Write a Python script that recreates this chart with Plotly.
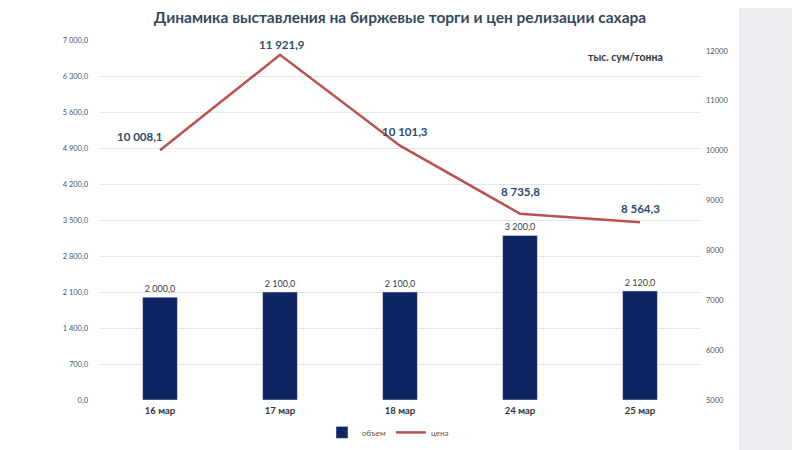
import plotly.graph_objects as go

categories = ["16 мар", "17 мар", "18 мар", "24 мар", "25 мар"]
volume = [2000.0, 2100.0, 2100.0, 3200.0, 2120.0]
price = [10008.1, 11921.9, 10101.3, 8735.8, 8564.3]
left_ticks = [0, 700, 1400, 2100, 2800, 3500, 4200, 4900, 5600, 6300, 7000]
left_tick_labels = ["0,0", "700,0", "1 400,0", "2 100,0", "2 800,0", "3 500,0",
                    "4 200,0", "4 900,0", "5 600,0", "6 300,0", "7 000,0"]
right_ticks = [5000, 6000, 7000, 8000, 9000, 10000, 11000, 12000]
right_tick_labels = ["5000", "6000", "7000", "8000", "9000", "10000", "11000", "12000"]

# label placement offsets (pixels) for price labels
label_dx = [-20, 2, 5, 0, 0]
label_dy = [14, 10, 14, 22, 14]

NAVY = "#0E2463"
RED = "#B9524F"
TXT = "#2F4A6A"


def fmt(v):
    s = f"{v:,.1f}"
    return s.replace(",", " ").replace(".", ",")


fig = go.Figure()
fig.add_trace(go.Bar(
    x=categories, y=volume, name="объем", marker_color=NAVY, width=0.29,
    texttemplate="%{y:,.1f}", textposition="outside",
    textfont=dict(size=9, color="#3A3F4A", family="Lato"),
    cliponaxis=False,
))
fig.add_trace(go.Scatter(
    x=categories, y=price, name="цена", yaxis="y2", mode="lines",
    line=dict(color=RED, width=2.5),
    cliponaxis=False,
))

annotations = [
    dict(text="<b>тыс. сум/тонна</b>", xref="paper", yref="paper", x=0.875, y=0.953,
         xanchor="center", yanchor="middle", showarrow=False,
         font=dict(size=10.5, color="#2E3440", family="Lato")),
]
for c, p, dx, dy in zip(categories, price, label_dx, label_dy):
    annotations.append(dict(
        x=c, y=p, xref="x", yref="y2", text=f"<b>{fmt(p)}</b>", showarrow=False,
        xanchor="center", yanchor="middle", xshift=dx, yshift=dy,
        font=dict(size=11.5, color=TXT, family="Lato"),
    ))

fig.update_layout(
    width=800, height=450,
    separators=", ",
    paper_bgcolor="#FFFFFF", plot_bgcolor="rgba(0,0,0,0)",
    margin=dict(l=92, r=108, t=32, b=58, autoexpand=False),
    font=dict(family="Lato", color="#44546A"),
    title=dict(text="<b>Динамика выставления на биржевые торги и цен релизации сахара</b>",
               x=0.49, xanchor="center", y=0.978, yanchor="middle",
               font=dict(size=15.5, color="#34495E", family="Lato")),
    xaxis=dict(showgrid=False, showline=False, zeroline=False, automargin=False,
               tickfont=dict(size=9.5, color="#2E3440", family="Lato", weight="bold"),
               ticks="", ticklabelstandoff=3),
    yaxis=dict(range=[0, 7000], tickvals=left_ticks, ticktext=left_tick_labels,
               showgrid=True, gridcolor="#E3E6EA", gridwidth=1, zeroline=False,
               automargin=False,
               tickfont=dict(size=7.5, color="#4A5568", family="Lato"),
               ticklabelstandoff=11),
    yaxis2=dict(range=[5000, 12220], tickvals=right_ticks, ticktext=right_tick_labels,
                overlaying="y", side="right", showgrid=False, zeroline=False,
                automargin=False,
                tickfont=dict(size=7.5, color="#4A5568", family="Lato"),
                ticklabelstandoff=5),
    showlegend=True,
    legend=dict(orientation="h", x=0.48, xanchor="center", y=-0.09, yanchor="middle",
                font=dict(size=8, color="#555"), bgcolor="rgba(0,0,0,0)",
                itemwidth=30, tracegroupgap=0),
    bargap=0.7,
    shapes=[
        dict(type="rect", xref="paper", yref="paper", x0=1.067, x1=1.3, y0=-0.3, y1=1.2,
             fillcolor="#EDEFF3", line_width=0, layer="below"),
        dict(type="line", xref="paper", yref="paper", x0=1.067, x1=1.067, y0=-0.3, y1=1.2,
             line=dict(color="#DADDE2", width=1), layer="below"),
    ],
    annotations=annotations,
)

fig.write_html("out.html")
